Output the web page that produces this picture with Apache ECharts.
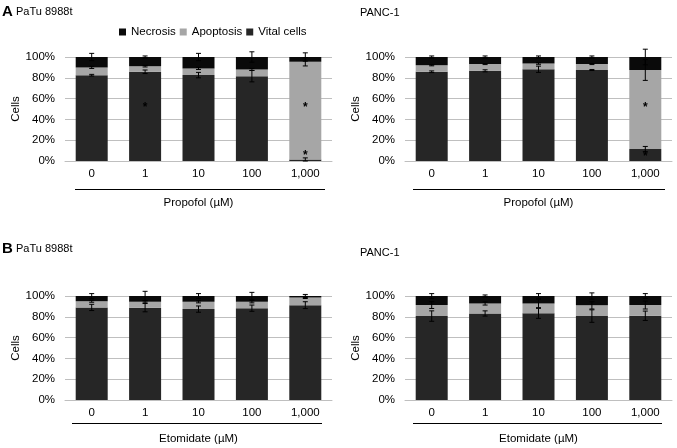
<!DOCTYPE html>
<html><head><meta charset="utf-8">
<script src="https://cdn.jsdelivr.net/npm/echarts@6/dist/echarts.min.js"></script>
<style>html,body{margin:0;padding:0;background:#fff}#c{width:677px;height:448px}</style>
</head><body><div id="c"></div>
<script>
const categories = ['0', '1', '10', '100', '1,000'];
const yTicks = [0, 20, 40, 60, 80, 100];

// A – Propofol, PaTu 8988t
const propPatuVital = [82.5, 85.8, 82.6, 81.6, 1.5];
const propPatuApop = [7.5, 5.4, 6.4, 6.4, 93.9];
const propPatuNecro = [10, 8.8, 11, 12, 4.6];
const propPatuVitalErr = [0.8, 1.7, 2.6, 5.5, 1.5];
const propPatuApopErr = [1, 0.8, 1, 1, 4];
const propPatuNecroErr = [3.5, 1, 3.5, 5, 4];
const propPatuStars = [[1, 53], [4, 53], [4, 7]];

// A – Propofol, PANC-1
const propPancVital = [85.8, 86.7, 88.2, 87.5, 11.5];
const propPancApop = [6.2, 6.5, 5.6, 5.7, 76];
const propPancNecro = [8, 6.8, 6.2, 6.8, 12.5];
const propPancVitalErr = [0.8, 1, 3, 0.5, 2.5];
const propPancApopErr = [0.5, 0.5, 0.8, 0.5, 10];
const propPancNecroErr = [1, 1, 1, 1, 7.5];
const propPancStars = [[4, 53], [4, 6]];

// B – Etomidate, PaTu 8988t
const etoPatuVital = [89, 88.8, 87.4, 88.3, 91.2];
const etoPatuApop = [6, 5.6, 7, 6.1, 7.4];
const etoPatuNecro = [5, 5.6, 5.6, 5.6, 1.4];
const etoPatuVitalErr = [3, 4, 3, 3, 3.3];
const etoPatuApopErr = [1, 1, 1, 1, 1];
const etoPatuNecroErr = [2.3, 4.5, 2.3, 3.5, 1.5];

// B – Etomidate, PANC-1
const etoPancVital = [80.7, 83.2, 83.3, 80.7, 81];
const etoPancApop = [10.6, 9.6, 9.5, 10.3, 10.3];
const etoPancNecro = [8.7, 7.2, 7.2, 9, 8.7];
const etoPancVitalErr = [5, 2.5, 4.8, 6, 4.5];
const etoPancApopErr = [3.3, 1.5, 4, 3.5, 3.8];
const etoPancNecroErr = [2.3, 1, 2.3, 3, 2.3];

const FONT = '"Liberation Sans", Arial, sans-serif';
const FS = 11.5;
const C_VITAL = '#262626', C_APOP = '#a6a6a6', C_NECRO = '#0a0a0a';

const panels = [
  {grid: {left: 65, top: 57, width: 267, height: 104}, xname: 'Propofol (µM)', nameGap: 36,
   v: propPatuVital, a: propPatuApop, n: propPatuNecro, ve: propPatuVitalErr, ae: propPatuApopErr, ne: propPatuNecroErr, stars: propPatuStars},
  {grid: {left: 405, top: 57, width: 267, height: 104}, xname: 'Propofol (µM)', nameGap: 36,
   v: propPancVital, a: propPancApop, n: propPancNecro, ve: propPancVitalErr, ae: propPancApopErr, ne: propPancNecroErr, stars: propPancStars},
  {grid: {left: 65, top: 296, width: 267, height: 104}, xname: 'Etomidate (µM)', nameGap: 33,
   v: etoPatuVital, a: etoPatuApop, n: etoPatuNecro, ve: etoPatuVitalErr, ae: etoPatuApopErr, ne: etoPatuNecroErr, stars: []},
  {grid: {left: 405, top: 296, width: 267, height: 104}, xname: 'Etomidate (µM)', nameGap: 33,
   v: etoPancVital, a: etoPancApop, n: etoPancNecro, ve: etoPancVitalErr, ae: etoPancApopErr, ne: etoPancNecroErr, stars: []}
];

function errRender(params, api) {
  const x = api.value(0), y = api.value(1), e = api.value(2);
  const t = api.coord([x, y + e]), b = api.coord([x, y - e]);
  const hw = 2.5, st = {stroke: '#000', lineWidth: 1};
  return {type: 'group', children: [
    {type: 'line', shape: {x1: t[0], y1: t[1], x2: b[0], y2: b[1]}, style: st},
    {type: 'line', shape: {x1: t[0] - hw, y1: t[1], x2: t[0] + hw, y2: t[1]}, style: st},
    {type: 'line', shape: {x1: b[0] - hw, y1: b[1], x2: b[0] + hw, y2: b[1]}, style: st}
  ]};
}
function starRender(params, api) {
  const p = api.coord([api.value(0), api.value(1)]);
  return {type: 'text', x: p[0], y: p[1] + 2,
    style: {text: '*', fill: '#000', font: 'bold 12px ' + FONT, textAlign: 'center', textVerticalAlign: 'middle'}};
}

const grids = [], xAxes = [], yAxes = [], series = [];
panels.forEach((p, i) => {
  grids.push(p.grid);
  xAxes.push({type: 'category', gridIndex: i, data: categories,
    axisLine: {lineStyle: {color: '#bfbfbf'}}, axisTick: {show: false},
    axisLabel: {color: '#000', fontSize: FS, fontFamily: FONT, margin: 7},
    name: p.xname, nameLocation: 'middle', nameGap: p.nameGap,
    nameTextStyle: {color: '#000', fontSize: FS, fontFamily: FONT}});
  yAxes.push({type: 'value', gridIndex: i, min: 0, max: 100, interval: 20,
    axisLine: {show: false}, axisTick: {show: false},
    splitLine: {lineStyle: {color: '#bfbfbf'}},
    axisLabel: {formatter: '{value}%', color: '#000', fontSize: FS, fontFamily: FONT, margin: 10},
    name: 'Cells', nameLocation: 'middle', nameGap: 36,
    nameTextStyle: {color: '#000', fontSize: FS, fontFamily: FONT}});
  const stack = 's' + i;
  const common = {type: 'bar', xAxisIndex: i, yAxisIndex: i, stack: stack, barWidth: 32, emphasis: {disabled: true}};
  series.push(Object.assign({name: 'Vital cells', data: p.v, itemStyle: {color: C_VITAL}}, common));
  series.push(Object.assign({name: 'Apoptosis', data: p.a, itemStyle: {color: C_APOP}}, common));
  series.push(Object.assign({name: 'Necrosis', data: p.n, itemStyle: {color: C_NECRO}}, common));
  const errData = [];
  categories.forEach((c, k) => {
    const t1 = p.v[k], t2 = p.v[k] + p.a[k], t3 = p.v[k] + p.a[k] + p.n[k];
    errData.push([k, t1, p.ve[k]]);
    errData.push([k, t2, p.ae[k]]);
    errData.push([k, t3, p.ne[k]]);
  });
  series.push({type: 'custom', xAxisIndex: i, yAxisIndex: i, renderItem: errRender, data: errData, z: 5, silent: true});
  if (p.stars.length) {
    series.push({type: 'custom', xAxisIndex: i, yAxisIndex: i, renderItem: starRender, data: p.stars, z: 6, silent: true});
  }
});

const txt = (x, y, text, size, bold) => ({type: 'text', x: x, y: y,
  style: {text: text, fill: '#000', font: (bold ? 'bold ' : '') + size + 'px ' + FONT, textVerticalAlign: 'middle'}});
const ln = (x1, x2, y) => ({type: 'line', shape: {x1: x1, y1: y, x2: x2, y2: y}, style: {stroke: '#000', lineWidth: 1}});

const chart = echarts.init(document.getElementById('c'), null, {renderer: 'canvas'});
chart.setOption({
  animation: false,
  textStyle: {fontFamily: FONT},
  legend: {data: ['Necrosis', 'Apoptosis', 'Vital cells'], left: 114, top: 21, itemWidth: 7, itemHeight: 7, itemGap: 4,
    icon: 'rect', textStyle: {color: '#000', fontSize: FS, fontFamily: FONT}},
  grid: grids, xAxis: xAxes, yAxis: yAxes, series: series,
  graphic: [
    txt(2, 12, 'A', 15, true), txt(16, 12, 'PaTu 8988t', 11),
    txt(360, 13, 'PANC-1', 11),
    txt(2, 249, 'B', 15, true), txt(16, 249, 'PaTu 8988t', 11),
    txt(360, 253, 'PANC-1', 11),
    ln(75, 325, 189.5), ln(413, 665, 189.5), ln(72, 322, 423.5), ln(413, 662, 423.5)
  ]
});
</script></body></html>
